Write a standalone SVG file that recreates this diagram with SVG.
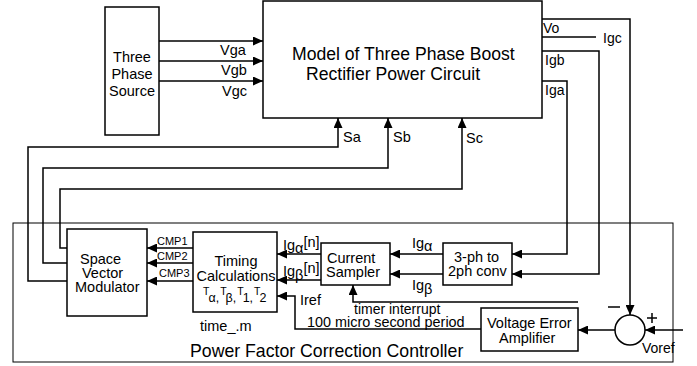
<svg xmlns="http://www.w3.org/2000/svg" width="697" height="366" viewBox="0 0 697 366">
<defs>
<style>
text{font-family:"Liberation Sans",Arial,sans-serif;fill:#000;font-size:14.5px}
.box{fill:none;stroke:#000;stroke-width:1.5}
.w{stroke:#000;stroke-width:1.5;fill:none}
.a{stroke:#000;stroke-width:1.5;fill:none;marker-end:url(#ah)}
.sm{font-size:11px}
</style>
<marker id="ah" markerUnits="userSpaceOnUse" markerWidth="10" markerHeight="9" refX="10" refY="4.5" orient="auto">
<path d="M0,0 L10,4.5 L0,9 z" fill="#000"/>
</marker>
</defs>
<rect width="697" height="366" fill="#fff"/>

<g id="controller">
<rect x="13" y="223" width="660" height="139" fill="none" stroke="#000" stroke-width="1"/>
<text x="190" y="357" style="font-size:17.7px">Power Factor Correction Controller</text>
</g>

<g id="source">
<rect class="box" x="105" y="7" width="54" height="128"/>
<text x="132" y="62" text-anchor="middle">Three</text>
<text x="132" y="79" text-anchor="middle">Phase</text>
<text x="132" y="96" text-anchor="middle">Source</text>
</g>

<g id="model">
<rect class="box" x="263" y="1" width="279" height="117"/>
<text x="292" y="60" style="font-size:17.6px">Model of Three Phase Boost</text>
<text x="306" y="80" style="font-size:17.6px">Rectifier Power Circuit</text>
</g>

<g id="svm">
<rect class="box" x="67" y="229" width="80" height="87"/>
<text x="80" y="264">Space</text>
<text x="82" y="278">Vector</text>
<text x="75" y="292">Modulator</text>
</g>

<g id="timing">
<rect class="box" x="193" y="232" width="84" height="80"/>
<text x="236" y="266" text-anchor="middle">Timing</text>
<text x="236" y="281" text-anchor="middle">Calculations</text>
<text x="203" y="295"><tspan font-size="10.5">T</tspan><tspan dx="-1" dy="7" font-size="12.5">α,</tspan><tspan dx="1" dy="-7" font-size="10.5">T</tspan><tspan dx="-1" dy="7" font-size="12.5">β,</tspan><tspan dx="1" dy="-7" font-size="10.5">T</tspan><tspan dx="-1" dy="7" font-size="12.5">1,</tspan><tspan dx="1" dy="-7" font-size="10.5">T</tspan><tspan dx="-1" dy="7" font-size="12.5">2</tspan></text>
<text x="200" y="331">time_.m</text>
</g>

<g id="sampler">
<rect class="box" x="321" y="243" width="69" height="42"/>
<text x="327" y="263">Current</text>
<text x="326" y="277">Sampler</text>
</g>

<g id="conv">
<rect class="box" x="443" y="243" width="69" height="42"/>
<text x="454" y="262">3-ph to</text>
<text x="448" y="276">2ph conv</text>
</g>

<g id="vea">
<rect class="box" x="481" y="308" width="97" height="43"/>
<text x="487" y="328">Voltage Error</text>
<text x="499" y="343">Amplifier</text>
</g>

<g id="sum">
<circle cx="630" cy="330" r="15" fill="none" stroke="#000" stroke-width="1.5"/>
<line x1="608" y1="307" x2="620" y2="307" stroke="#000" stroke-width="1.5"/>
<line x1="647" y1="318" x2="657" y2="318" stroke="#000" stroke-width="1.5"/>
<line x1="652" y1="313" x2="652" y2="323" stroke="#000" stroke-width="1.5"/>
<text x="642" y="353" style="font-size:14px">Voref</text>
</g>

<g id="connectors">
<line class="a" x1="159" y1="41" x2="263" y2="41"/>
<line class="a" x1="159" y1="61" x2="263" y2="61"/>
<line class="a" x1="159" y1="81" x2="263" y2="81"/>
<path class="a" d="M67,281 H28 V147 H338 V118"/>
<path class="a" d="M67,263 H43 V168 H388 V118"/>
<path class="a" d="M67,248 H60 V189 H462 V118"/>
<line class="a" x1="193" y1="248" x2="147" y2="248"/>
<line class="a" x1="193" y1="263" x2="147" y2="263"/>
<line class="a" x1="193" y1="281" x2="147" y2="281"/>
<line class="a" x1="321" y1="254" x2="277" y2="254"/>
<line class="a" x1="321" y1="280" x2="277" y2="280"/>
<path class="a" d="M481,329 H295 V296 H277"/>
<line class="a" x1="443" y1="254" x2="390" y2="254"/>
<line class="a" x1="443" y1="274" x2="390" y2="274"/>
<path class="a" d="M542,81 H567 V254 H512"/>
<path class="a" d="M542,51 H599 V274 H512"/>
<path class="a" d="M542,19 H630 V315"/>
<path class="w" d="M542,37 H596"/>
<path class="a" d="M578,302 H353 V285"/>
<line class="a" x1="615" y1="330" x2="578" y2="330"/>
<line class="a" x1="683" y1="330" x2="645" y2="330"/>
</g>

<g id="labels">
<text x="220" y="55">Vga</text>
<text x="221" y="75">Vgb</text>
<text x="222" y="96">Vgc</text>
<text x="343" y="142">Sa</text>
<text x="393" y="142">Sb</text>
<text x="466" y="143">Sc</text>
<text x="543" y="33" style="font-size:14px">Vo</text>
<text x="603" y="43" style="font-size:14px">Igc</text>
<text x="545" y="65" style="font-size:14px">Igb</text>
<text x="545" y="95" style="font-size:14px">Iga</text>
<text class="sm" x="157" y="245">CMP1</text>
<text class="sm" x="157" y="260">CMP2</text>
<text class="sm" x="159" y="277">CMP3</text>
<text x="283" y="250">Ig<tspan dy="3">α</tspan><tspan dy="-6">[n]</tspan></text>
<text x="283" y="276">Ig<tspan dy="4">β</tspan><tspan dy="-7">[n]</tspan></text>
<text x="412" y="248">Ig<tspan dy="3">α</tspan></text>
<text x="412" y="290">Ig<tspan dy="4">β</tspan></text>
<text x="300" y="305">Iref</text>
<text x="354" y="314" style="font-size:14px">timer interrupt</text>
<text x="307" y="327" style="font-size:14.4px">100 micro second period</text>
</g>
</svg>
